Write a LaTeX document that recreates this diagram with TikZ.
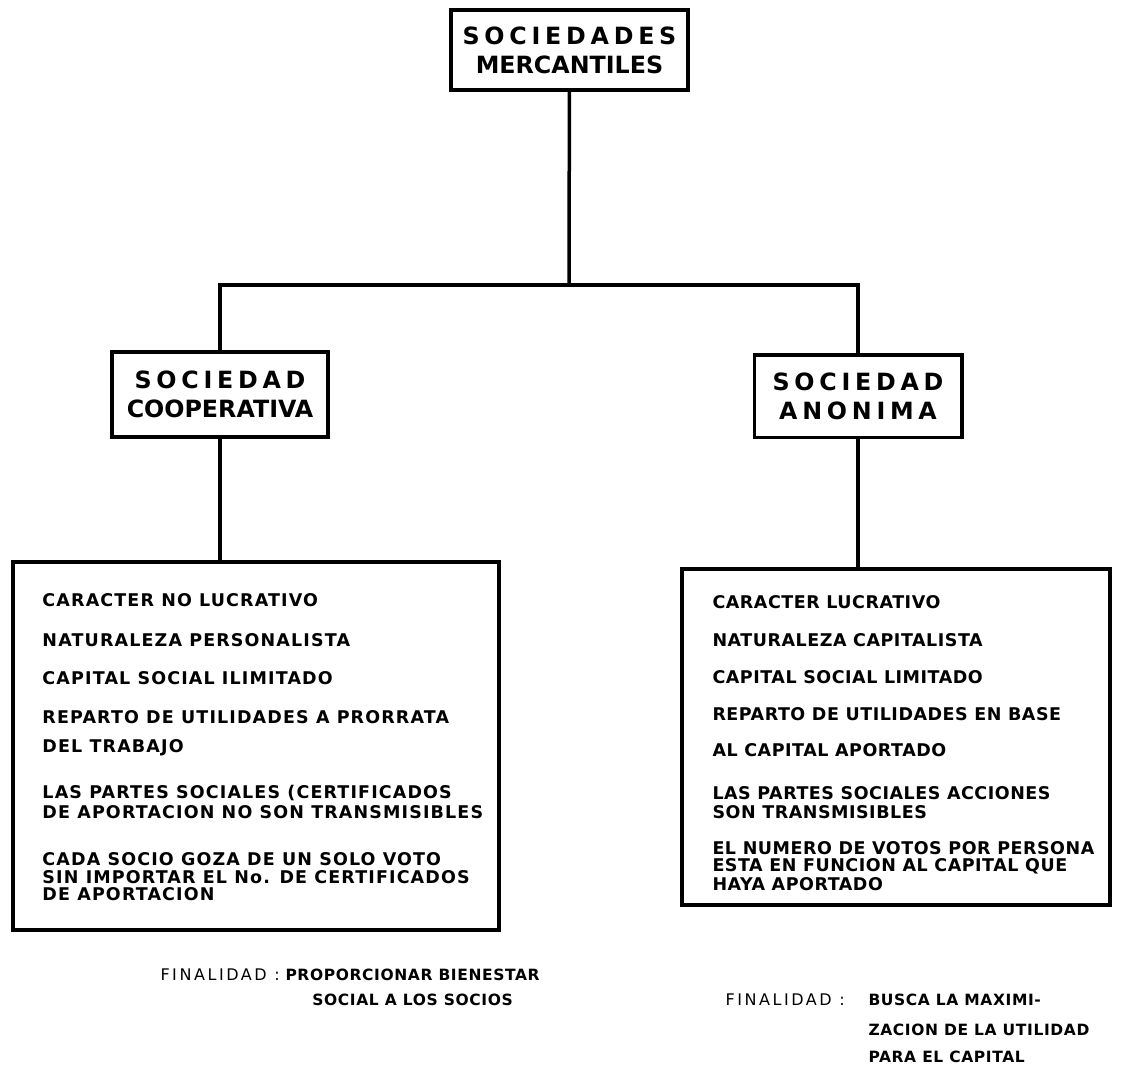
\documentclass[tikz,border=0pt]{standalone}
\usepackage{fontspec}
\setmainfont{DejaVu Sans}
\usetikzlibrary{positioning}

\newcommand{\spaced}{\addfontfeature{LetterSpace=20}}

\tikzset{
  box/.style={draw, line width=1.4pt, inner sep=0pt},
  title/.style={box, align=center, font=\bfseries\fontsize{9.5}{11.5}\selectfont},
  item/.style={anchor=west, inner sep=0pt, font=\bfseries\fontsize{7}{8.4}\selectfont\addfontfeature{LetterSpace=6.5}},
  itemr/.style={item, font=\bfseries\fontsize{7}{8.4}\selectfont\addfontfeature{LetterSpace=3}},
  goal/.style={anchor=west, inner sep=0pt, font=\fontsize{6.4}{7.6}\selectfont\addfontfeature{LetterSpace=16}},
  goaltext/.style={anchor=west, inner sep=0pt, font=\bfseries\fontsize{6.2}{7.4}\selectfont\addfontfeature{LetterSpace=4}},
  link/.style={line width=1.4pt}
}

\begin{document}
\begin{tikzpicture}[x=0.4pt, y=-0.4pt]
  \useasboundingbox (0,0) rectangle (1126,1075);

  % boxes
  \node[title, minimum width=94.8pt, minimum height=32pt] (top) at (569.5,50)
    {{\spaced SOCIEDADES}\\MERCANTILES};
  \node[title, minimum width=86.4pt, minimum height=34pt] (coop) at (220,394.5)
    {{\spaced SOCIEDAD}\\COOPERATIVA};
  \node[title, minimum width=83pt, minimum height=33pt] (anon) at (858,396)
    {{\spaced SOCIEDAD}\\{\spaced ANONIMA}};
  \node[box, minimum width=194.4pt, minimum height=147.2pt] (coopbox) at (256,746) {};
  \node[box, minimum width=171.2pt, minimum height=134.4pt] (anonbox) at (896,737) {};

  % connectors
  \coordinate (split) at (569,285);
  \draw[link] (top) -- (split);
  \draw[link] (coop.north) |- (split) -| (anon.north);
  \draw[link] (coop) -- (coop |- coopbox.north);
  \draw[link] (anon) -- (anon |- anonbox.north);

  % cooperativa
  \foreach \y/\txt in {600/CARACTER NO LUCRATIVO, 640/NATURALEZA PERSONALISTA,
      678/CAPITAL SOCIAL ILIMITADO, 717/REPARTO DE UTILIDADES A PRORRATA,
      748/DEL TRABAJO, 793/LAS PARTES SOCIALES (CERTIFICADOS,
      812/DE APORTACION NO SON TRANSMISIBLES, 859/CADA SOCIO GOZA DE UN SOLO VOTO,
      877/SIN IMPORTAR EL No. DE CERTIFICADOS, 894/DE APORTACION}
    \node[item] (coop\y) at (42,\y) {\txt};

  % anonima
  \foreach \y/\txt in {602/CARACTER LUCRATIVO, 640/NATURALEZA CAPITALISTA,
      677/CAPITAL SOCIAL LIMITADO, 714/REPARTO DE UTILIDADES EN BASE,
      750/AL CAPITAL APORTADO, 793/LAS PARTES SOCIALES ACCIONES,
      812/SON TRANSMISIBLES, 848/EL NUMERO DE VOTOS POR PERSONA,
      866/ESTA EN FUNCION AL CAPITAL QUE, 884/HAYA APORTADO}
    \node[itemr] (anon\y) at (712,\y) {\txt};

  % finalidad
  \node[goal] (coopgoal) at (160,975) {FINALIDAD :};
  \node[goaltext] (coopgoal1) at (285,975) {PROPORCIONAR BIENESTAR};
  \node[goaltext, anchor=center] (coopgoal2) at (coopgoal1.center |- 0,1000) {SOCIAL A LOS SOCIOS};

  \node[goal] (anongoal) at (725,1000) {FINALIDAD :};
  \node[goaltext] (anongoal1) at (868,1000) {BUSCA LA MAXIMI-};
  \node[goaltext] (anongoal2) at (868,1030) {ZACION DE LA UTILIDAD};
  \node[goaltext] (anongoal3) at (868,1057) {PARA EL CAPITAL};
\end{tikzpicture}
\end{document}
